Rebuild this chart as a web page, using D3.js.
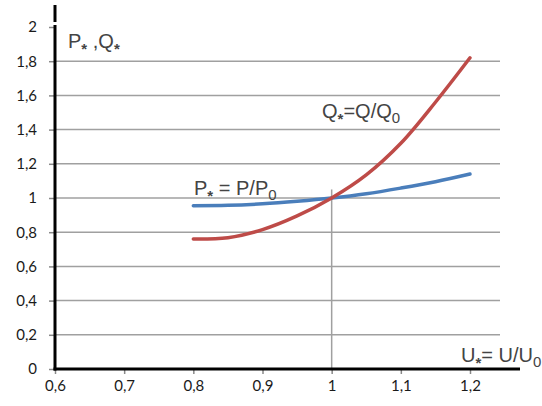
<!DOCTYPE html>
<html>
<head>
<meta charset="utf-8">
<script src="https://cdn.jsdelivr.net/npm/d3@7"></script>
<style>
    body { margin: 0; background: #fff; }
    svg { display: block; }
    .tick text { font-family: Lato, "Open Sans", sans-serif; font-size: 15px; fill: #1a1a1a; }
    .lbl { font-family: "Liberation Sans", Arial, sans-serif; font-size: 20px; fill: #444; }
</style>
</head>
<body>
<div id="chart"></div>
<script>
// voltage ratio U* and the two responses
const uValues = [0.8, 0.85, 0.9, 0.95, 1.0, 1.05, 1.1, 1.15, 1.2];
const pValues = [0.955, 0.957, 0.966, 0.981, 1.0, 1.025, 1.058, 1.095, 1.14];
const qValues = [0.76, 0.768, 0.815, 0.895, 1.0, 1.135, 1.32, 1.56, 1.82];

const xTicks = [0.6, 0.7, 0.8, 0.9, 1.0, 1.1, 1.2];
const yTicks = [0, 0.2, 0.4, 0.6, 0.8, 1.0, 1.2, 1.4, 1.6, 1.8, 2];
const gridValues = [0.2, 0.4, 0.6, 0.8, 1.0, 1.2, 1.4, 1.6, 1.8];

let width = 542, height = 406;

let svg = d3.select("#chart").append("svg")
    .attr("width", width)
    .attr("height", height);

let x = d3.scaleLinear().domain([0.6, 1.2]).range([55, 470]);
let y = d3.scaleLinear().domain([0, 2]).range([369, 27]);

let fmt = d => String(d).replace(".", ",");

// horizontal gridlines
svg.append("g").selectAll("line")
    .data(gridValues)
    .enter().append("line")
    .attr("x1", x(0.6)).attr("x2", 500)
    .attr("y1", d => y(d)).attr("y2", d => y(d))
    .attr("stroke", "#a0a0a0")
    .attr("stroke-width", 1.5);

// the single vertical line at U* = 1
svg.append("line")
    .attr("x1", x(1)).attr("x2", x(1))
    .attr("y1", y(1.05)).attr("y2", y(0))
    .attr("stroke", "#a0a0a0")
    .attr("stroke-width", 1.5);

// axes (ticks + labels only, the thick lines are drawn below)
let yAxis = svg.append("g")
    .attr("transform", "translate(" + x(0.6) + ",0)")
    .call(d3.axisLeft(y).tickValues(yTicks).tickFormat(fmt).tickSize(6).tickPadding(12));

let xAxis = svg.append("g")
    .attr("transform", "translate(0," + y(0) + ")")
    .call(d3.axisBottom(x).tickValues(xTicks).tickFormat(fmt).tickSize(5).tickPadding(6));

yAxis.select(".domain").remove();
xAxis.select(".domain").remove();
svg.selectAll(".tick line").attr("stroke", "#888").attr("stroke-width", 1.5);

// thick black axis lines
svg.append("line")
    .attr("x1", x(0.6)).attr("x2", x(0.6))
    .attr("y1", y(0) + 1.5).attr("y2", 25)
    .attr("stroke", "#000").attr("stroke-width", 3);
svg.append("line")
    .attr("x1", x(0.6)).attr("x2", x(0.6))
    .attr("y1", 22).attr("y2", 5)
    .attr("stroke", "#000").attr("stroke-width", 3);
svg.append("line")
    .attr("x1", x(0.6) - 1.5).attr("x2", 520)
    .attr("y1", y(0)).attr("y2", y(0))
    .attr("stroke", "#000").attr("stroke-width", 3);

// curves
let line = d3.line()
    .x(d => x(d[0]))
    .y(d => y(d[1]))
    .curve(d3.curveCatmullRom.alpha(0.5));

svg.append("path")
    .datum(uValues.map((u, i) => [u, pValues[i]]))
    .attr("d", line)
    .attr("fill", "none")
    .attr("stroke", "#4a7ebb")
    .attr("stroke-width", 3.5)
    .attr("stroke-linecap", "round");

svg.append("path")
    .datum(uValues.map((u, i) => [u, qValues[i]]))
    .attr("d", line)
    .attr("fill", "none")
    .attr("stroke", "#be4b48")
    .attr("stroke-width", 3.5)
    .attr("stroke-linecap", "round");

// text labels with subscripts
function label(px, py, parts) {
    let t = svg.append("text").attr("class", "lbl").attr("x", px).attr("y", py);
    parts.forEach(p => {
        let s = t.append("tspan").text(p[0]);
        if (p[1] === "star") s.attr("font-size", 15).attr("font-weight", "bold").attr("dy", 6);
        else if (p[1] === "sub") s.attr("font-size", 15).attr("dy", 5);
        else if (p[1] === "back") s.attr("dy", -6);
    });
}

label(68, 48, [["P"], ["*", "star"], [" ,", "back"], ["Q"], ["*", "star"]]);
label(322, 118, [["Q"], ["*", "star"], ["=Q/Q", "back"], ["0", "sub"]]);
label(194, 195, [["P"], ["*", "star"], [" = P/P", "back"], ["0", "sub"]]);
label(461, 362, [["U"], ["*", "star"], ["= U/U", "back"], ["0", "sub"]]);
</script>
</body>
</html>
